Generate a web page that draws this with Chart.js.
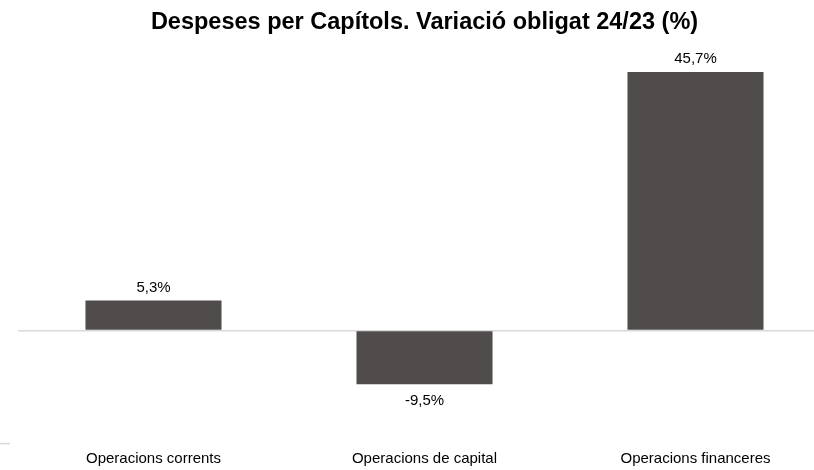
<!DOCTYPE html>
<html>
<head>
<meta charset="utf-8">
<script src="https://cdn.jsdelivr.net/npm/chart.js@4/dist/chart.umd.min.js"></script>
<style>
html,body{margin:0;padding:0;background:#fff;overflow:hidden;}
#wrap{position:absolute;left:0;top:0;width:849px;height:470px;}
</style>
</head>
<body>
<div id="wrap"><canvas id="c" width="849" height="470"></canvas></div>
<script>
const categories = ["Operacions corrents", "Operacions de capital", "Operacions financeres"];
const values = [5.3, -9.5, 45.7];
const valueLabels = ["5,3%", "-9,5%", "45,7%"];
const titleText = "Despeses per Capítols. Variació obligat 24/23 (%)";

const FONT = "'Liberation Sans', Arial, sans-serif";

const labelPlugin = {
  id: 'valueLabels',
  afterDatasetsDraw(chart) {
    const ctx = chart.ctx;
    const meta = chart.getDatasetMeta(0);
    ctx.save();
    ctx.font = "15px " + FONT;
    ctx.fillStyle = "#000";
    ctx.textAlign = "center";
    ctx.textBaseline = "middle";
    meta.data.forEach((bar, i) => {
      const v = values[i];
      const y = v >= 0 ? bar.y - 13 : bar.y + 17;
      ctx.fillText(valueLabels[i], bar.x, y);
    });
    // small stub at the bottom-left edge of the plot
    ctx.strokeStyle = '#d9d9d9';
    ctx.lineWidth = 1.5;
    ctx.beginPath();
    ctx.moveTo(0, chart.chartArea.bottom);
    ctx.lineTo(chart.chartArea.left - 8, chart.chartArea.bottom);
    ctx.stroke();
    ctx.restore();
  }
};

new Chart(document.getElementById('c'), {
  type: 'bar',
  data: {
    labels: categories,
    datasets: [{
      data: values,
      backgroundColor: '#504c4b',
      borderWidth: 0,
      barPercentage: 0.502,
      categoryPercentage: 1.0
    }]
  },
  options: {
    responsive: false,
    animation: false,
    devicePixelRatio: 1,
    layout: { padding: { left: 18, right: 18, top: 0, bottom: 0 } },
    plugins: {
      legend: { display: false },
      tooltip: { enabled: false },
      title: {
        display: true,
        text: titleText,
        color: '#000',
        font: { family: FONT, size: 23.5, weight: 'bold' },
        padding: { top: 8.9, bottom: 10.5 }
      }
    },
    scales: {
      x: {
        offset: true,
        grid: { display: false, drawTicks: false },
        border: { display: false },
        ticks: { color: '#000', font: { family: FONT, size: 15 }, padding: 6.5, maxRotation: 0 },
        afterFit: (s) => { s.height = 26.4; }
      },
      y: {
        min: -20,
        max: 50,
        grid: {
          drawTicks: false,
          lineWidth: 1.5,
          color: (c) => (c.tick && c.tick.value === 0) ? '#d9d9d9' : 'rgba(0,0,0,0)'
        },
        border: { display: false },
        ticks: { display: false, stepSize: 10 }
      }
    }
  },
  plugins: [labelPlugin]
});
</script>
</body>
</html>
